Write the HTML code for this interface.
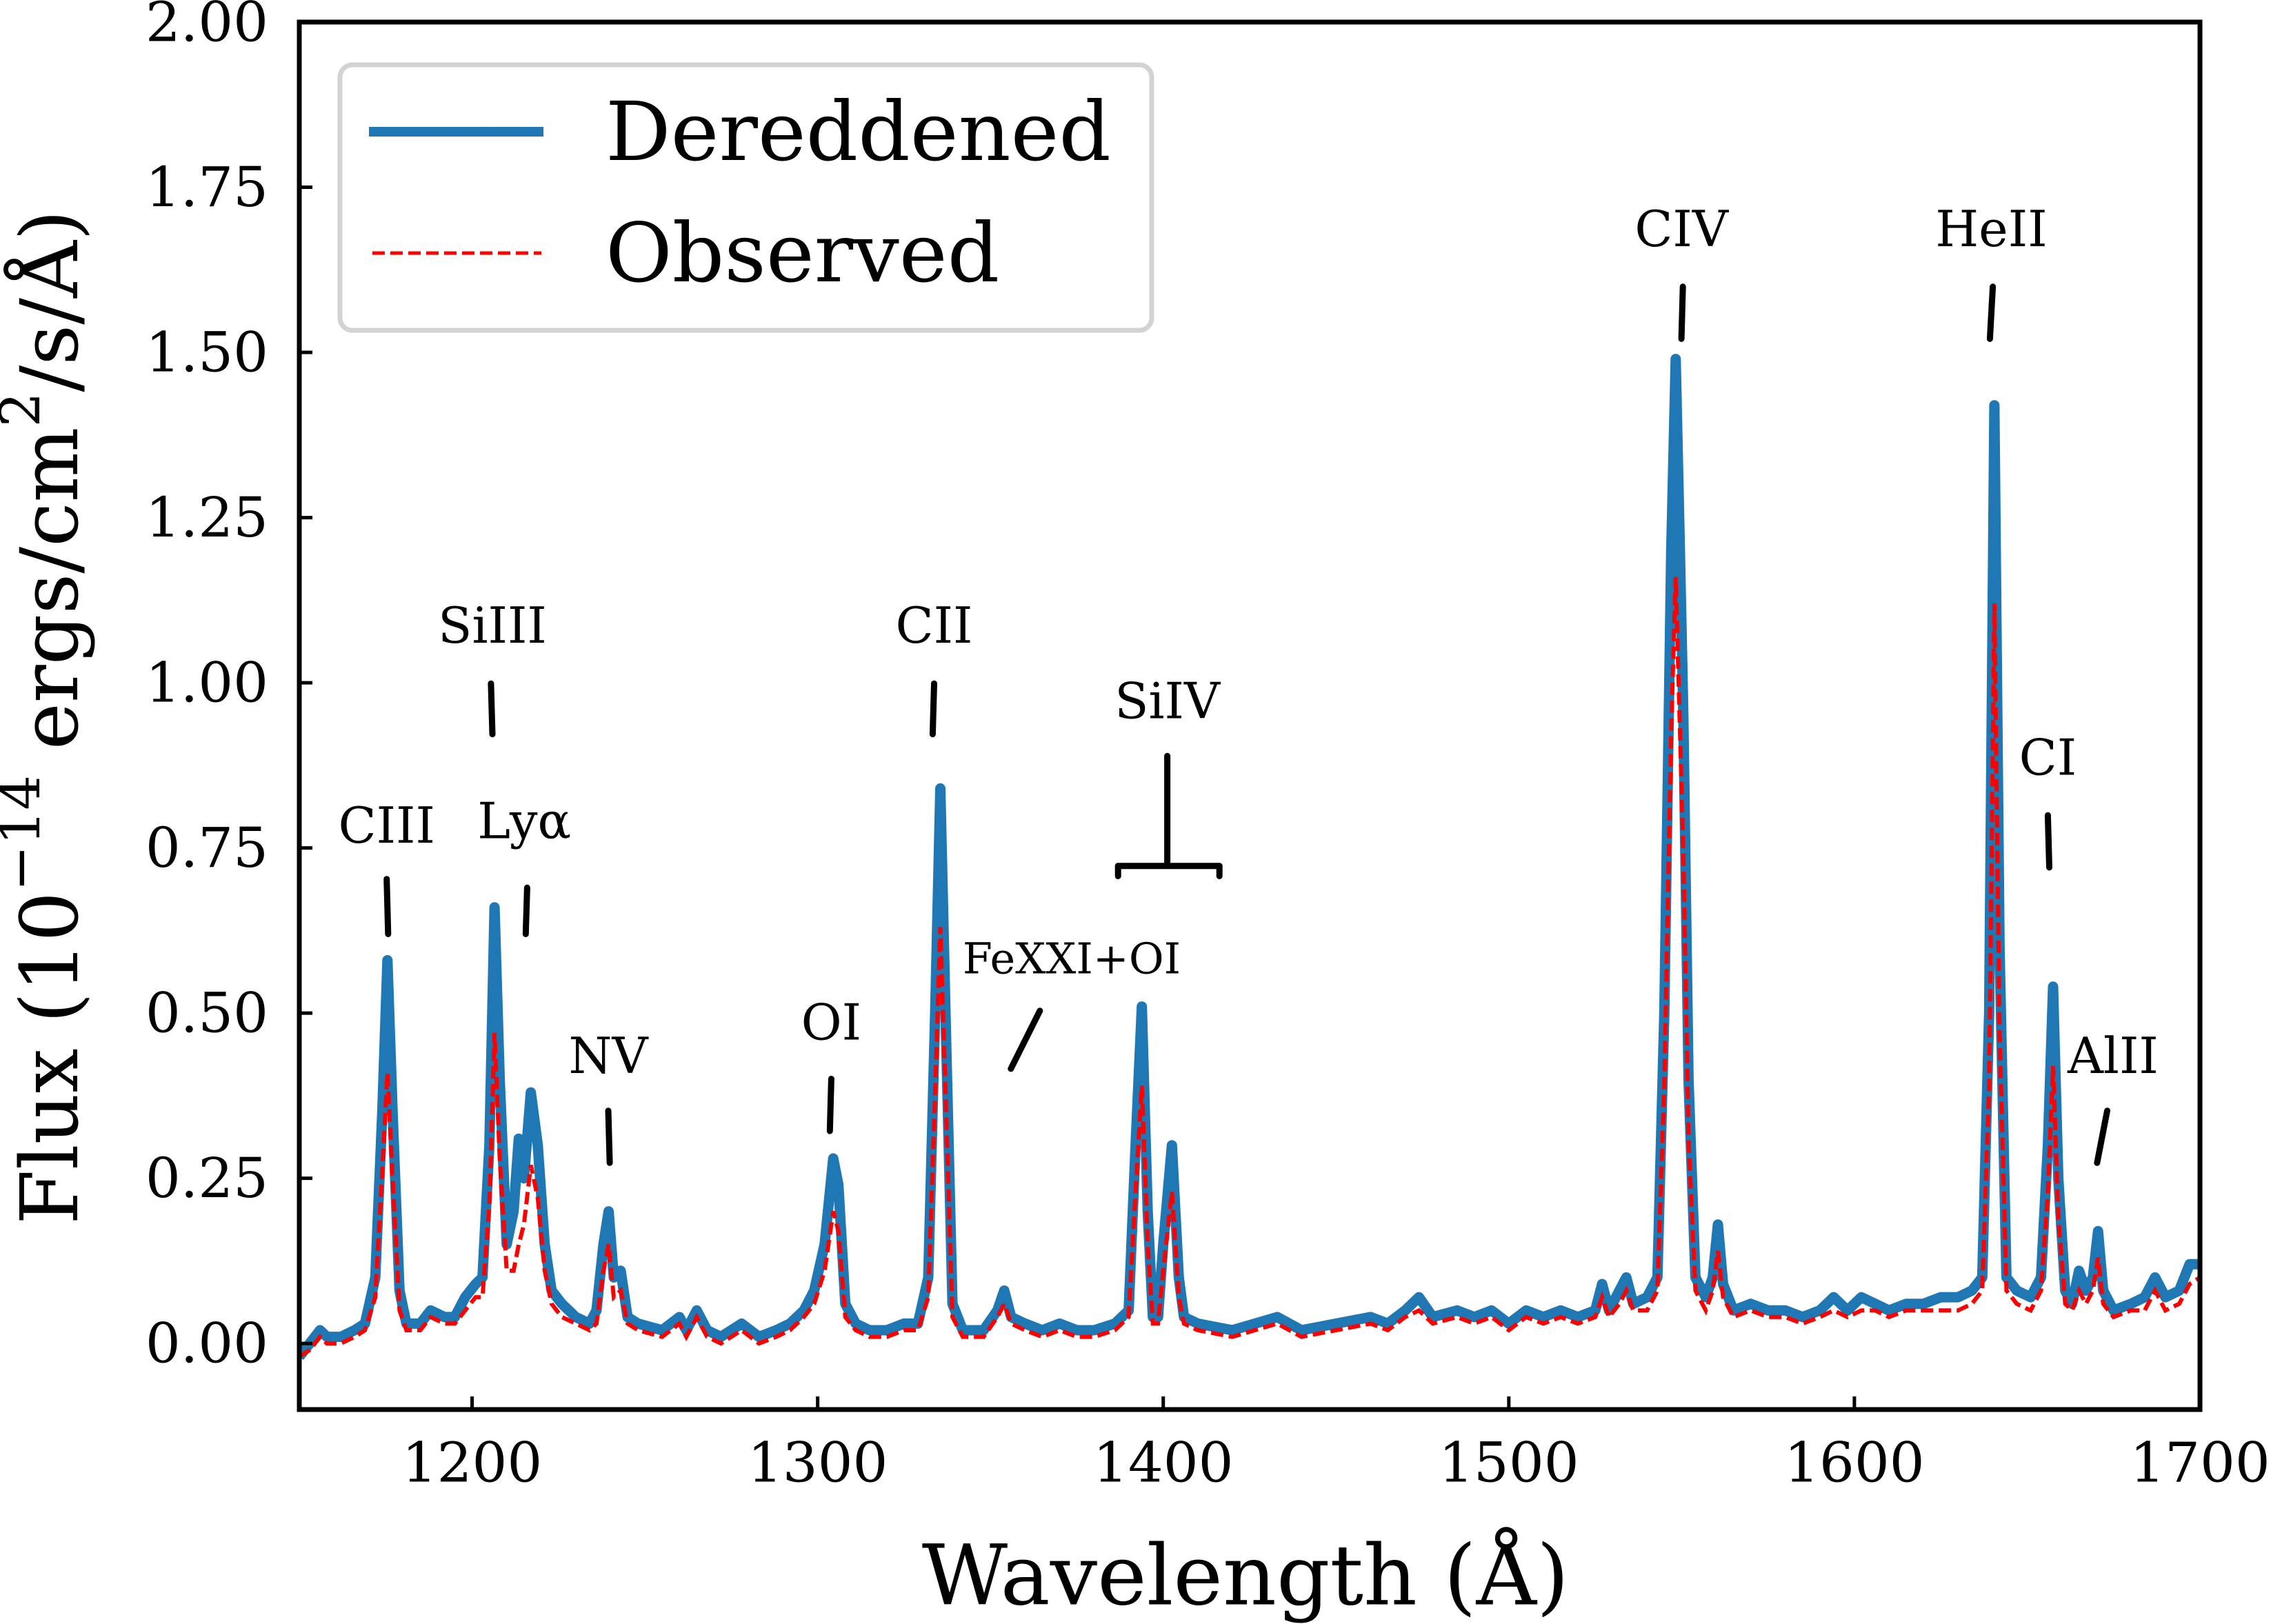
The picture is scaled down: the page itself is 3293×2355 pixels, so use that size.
<!DOCTYPE html>
<html><head><meta charset="utf-8"><style>
html,body{margin:0;padding:0;background:#fff}
svg{display:block}
text{font-family:"DejaVu Serif","Liberation Serif",serif;fill:#000}
</style></head><body>
<svg id="chart" width="3293" height="2355" viewBox="0 0 3293 2355" xmlns="http://www.w3.org/2000/svg">
<g id="plot"></g>
<g id="axes"></g>
<g id="annots"></g>
<g id="legend">
  <rect x="493" y="94" width="1177" height="385" rx="18" fill="#fff" stroke="#d3d3d3" stroke-width="7"/>
  <line x1="535" y1="191" x2="788" y2="191" stroke="#1f77b4" stroke-width="14"/>
  <text x="878" y="191" dominant-baseline="central" font-size="118">Dereddened</text>
  <line x1="540" y1="367" x2="785" y2="367" stroke="#ff0000" stroke-width="5" stroke-dasharray="18,8"/>
  <text x="878" y="367" dominant-baseline="central" font-size="118">Observed</text>
</g>
</svg>
<script>
const wavelength=[1150,1153,1156,1158,1162,1166,1169,1172,1174,1175.5,1177,1179,1181,1185,1188,1192,1195,1198,1201,1203,1205,1206.5,1208,1210,1212,1213.5,1215,1217,1219,1221,1223,1226,1230,1234,1236,1238,1239.5,1241,1243,1245,1248,1255,1260,1262,1265,1268,1272,1278,1283,1288,1292,1296,1299,1302,1304.5,1306,1308,1311,1315,1320,1325,1329,1332,1334,1335.5,1337,1339,1342,1348,1352,1354,1356,1360,1365,1370,1375,1380,1386,1390,1392,1393.8,1395.5,1397,1398.5,1400,1402.5,1404.5,1406,1410,1420,1433,1440,1450,1460,1465,1470,1474,1478,1485,1490,1495,1500,1505,1510,1515,1520,1525,1527,1529,1532,1534,1536,1540,1543,1545,1547,1548.3,1549.5,1550.5,1552,1554,1557,1559,1560.5,1562,1565,1570,1575,1580,1585,1590,1594,1598,1602,1606,1610,1615,1620,1625,1630,1634,1637,1639,1640.5,1642,1644,1647,1651,1654,1656,1657.5,1659,1661,1663,1665,1667,1669,1670.5,1672,1675,1680,1684,1687,1690,1694,1697,1700];
const dereddened=[-0.02,0.0,0.02,0.01,0.01,0.02,0.03,0.1,0.35,0.58,0.35,0.08,0.03,0.03,0.05,0.04,0.04,0.07,0.09,0.1,0.3,0.66,0.4,0.15,0.2,0.31,0.25,0.38,0.3,0.15,0.08,0.06,0.04,0.03,0.05,0.15,0.2,0.1,0.11,0.04,0.03,0.02,0.04,0.02,0.05,0.02,0.01,0.03,0.01,0.02,0.03,0.05,0.08,0.15,0.28,0.24,0.06,0.03,0.02,0.02,0.03,0.03,0.1,0.5,0.84,0.5,0.06,0.02,0.02,0.05,0.08,0.04,0.03,0.02,0.03,0.02,0.02,0.03,0.05,0.3,0.51,0.2,0.04,0.04,0.15,0.3,0.1,0.04,0.03,0.02,0.04,0.02,0.03,0.04,0.03,0.05,0.07,0.04,0.05,0.04,0.05,0.03,0.05,0.04,0.05,0.04,0.05,0.09,0.05,0.08,0.1,0.06,0.07,0.1,0.5,1.2,1.49,1.2,0.95,0.4,0.1,0.07,0.1,0.18,0.09,0.05,0.06,0.05,0.05,0.04,0.05,0.07,0.05,0.07,0.06,0.05,0.06,0.06,0.07,0.07,0.08,0.1,0.5,1.42,0.6,0.1,0.08,0.07,0.1,0.3,0.54,0.25,0.08,0.06,0.11,0.08,0.1,0.17,0.08,0.05,0.06,0.07,0.1,0.07,0.08,0.12,0.12];
const observed=[-0.02,-0.01,0.01,0.0,0.0,0.01,0.02,0.07,0.26,0.41,0.25,0.05,0.02,0.02,0.04,0.03,0.03,0.05,0.07,0.07,0.21,0.47,0.28,0.11,0.11,0.15,0.18,0.27,0.22,0.11,0.06,0.04,0.03,0.02,0.03,0.11,0.15,0.07,0.08,0.03,0.02,0.01,0.03,0.01,0.04,0.01,0.0,0.02,0.0,0.01,0.02,0.04,0.06,0.11,0.2,0.17,0.04,0.02,0.01,0.01,0.02,0.02,0.07,0.38,0.63,0.38,0.04,0.01,0.01,0.04,0.06,0.03,0.02,0.01,0.02,0.01,0.01,0.02,0.04,0.23,0.39,0.15,0.03,0.03,0.11,0.23,0.07,0.03,0.02,0.01,0.03,0.01,0.02,0.03,0.02,0.04,0.05,0.03,0.04,0.03,0.04,0.02,0.04,0.03,0.04,0.03,0.04,0.07,0.04,0.06,0.08,0.05,0.05,0.08,0.39,0.93,1.16,0.93,0.74,0.31,0.08,0.05,0.08,0.14,0.07,0.04,0.05,0.04,0.04,0.03,0.04,0.05,0.04,0.05,0.05,0.04,0.05,0.05,0.05,0.05,0.06,0.08,0.39,1.12,0.47,0.08,0.06,0.05,0.08,0.23,0.42,0.19,0.06,0.05,0.08,0.06,0.08,0.13,0.06,0.04,0.05,0.05,0.08,0.05,0.06,0.09,0.1];
const xTicks=[1200,1300,1400,1500,1600,1700];
const yTicks=[0,0.25,0.5,0.75,1.0,1.25,1.5,1.75,2.0];
const yTickLabels=["0.00","0.25","0.50","0.75","1.00","1.25","1.50","1.75","2.00"];

const NS='http://www.w3.org/2000/svg';
const L=434,R=3190,T=32,B=2044,X0=1150,X1=1700,Y0=-0.1,Y1=2.0;
function sx(v){return L+(v-X0)/(X1-X0)*(R-L);}
function sy(v){return B-(v-Y0)/(Y1-Y0)*(B-T);}
function mk(tag,attrs,parent){const e=document.createElementNS(NS,tag);for(const k in attrs)e.setAttribute(k,attrs[k]);parent.appendChild(e);return e;}

const plot=document.getElementById('plot');
const clip=mk('clipPath',{id:'clipA'},plot);
mk('rect',{x:L,y:T,width:R-L,height:B-T},clip);
function pathD(ys){return wavelength.map((w,i)=>(i?'L':'M')+sx(w).toFixed(1)+','+sy(ys[i]).toFixed(1)).join(' ');}
const p1=mk('path',{d:pathD(dereddened),fill:'none',stroke:'#1f77b4','stroke-width':15,'stroke-linejoin':'round','clip-path':'url(#clipA)'},plot);


const p2=mk('path',{d:pathD(observed),fill:'none',stroke:'#ff0000','stroke-width':6,'stroke-dasharray':'18,8','clip-path':'url(#clipA)'},plot);



const axes=document.getElementById('axes');
xTicks.forEach(v=>{
  const t=mk('line',{x1:sx(v),x2:sx(v),y1:B,y2:B-19,stroke:'#000','stroke-width':5},axes);
  
  
  const l=mk('text',{x:sx(v),y:2121,'text-anchor':'middle','dominant-baseline':'central','font-size':80},axes);
  l.textContent=String(v);
  
  
});
yTicks.forEach((v,i)=>{
  const t=mk('line',{x1:L,x2:L+19,y1:sy(v),y2:sy(v),stroke:'#000','stroke-width':5},axes);
  
  
  const l=mk('text',{x:389,y:sy(v),'text-anchor':'end','dominant-baseline':'central','font-size':80},axes);
  l.textContent=yTickLabels[i];
  
  
});
const frame=mk('rect',{x:L,y:T,width:R-L,height:B-T,fill:'none',stroke:'#000','stroke-width':7},axes);


const xl=mk('text',{x:1806,y:2285,'text-anchor':'middle','dominant-baseline':'central','font-size':121},axes);
xl.textContent='Wavelength (Å)';


const yl=mk('text',{x:0,y:0,'text-anchor':'middle','dominant-baseline':'central','font-size':115,transform:'translate(73,1040) rotate(-90)'},axes);
yl.innerHTML='Flux (10<tspan dy="-44" font-size="80">−14</tspan><tspan dy="44"> ergs/cm</tspan><tspan dy="-44" font-size="80">2</tspan><tspan dy="44">/s/Å)</tspan>';



const an=document.getElementById('annots');
const labels=[
 ['CIII',267,570,[[267,607,268,645]],72],
 ['SiIII',340,432,[[339,472,340,507]],72],
 ['Lyα',362,567,[[364,613,363,645]],72],
 ['NV',420,729,[[420,767,421,803]],72],
 ['OI',574,706,[[574,745,573,781]],72],
 ['CII',645,432,[[645,472,644,507]],72],
 ['FeXXI+OI',740,662,[[718,698,698,738]],62],
 ['SiIV',806,484,[[806,522,806,598],[772,598,842,598],[772,598,772,605],[842,598,842,605]],72],
 ['CIV',1161,158,[[1162,198,1161,234]],72],
 ['HeII',1375,158,[[1376,198,1374,234]],72],
 ['CI',1414,523,[[1414,563,1415,599]],72],
 ['AlII',1459,729,[[1455,767,1448,803]],72]
];
const f=2.1;
labels.forEach(a=>{
  const t=mk('text',{x:a[1]*f,y:a[2]*f,'text-anchor':'middle','dominant-baseline':'central','font-size':a[4]},an);
  t.textContent=a[0];
  
  
  a[3].forEach(s=>{
    const l=mk('line',{x1:s[0]*f,y1:s[1]*f,x2:s[2]*f,y2:s[3]*f,stroke:'#000','stroke-width':9,'stroke-linecap':'round'},an);
    
    
  });
});
</script>
</body></html>
